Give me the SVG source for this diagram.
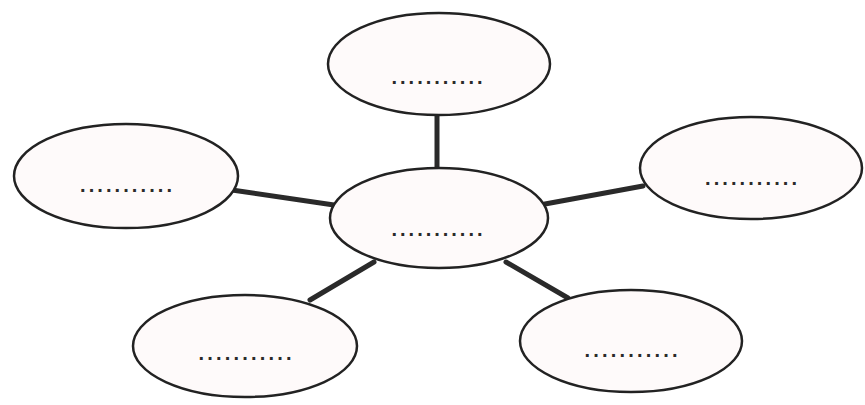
<svg xmlns="http://www.w3.org/2000/svg" width="865" height="405" viewBox="0 0 865 405">
<style>
.n{fill:#fefafa;stroke:#222;stroke-width:2.5}
.t{font-family:"Liberation Sans",Arial,sans-serif;font-size:20px;font-weight:bold;fill:#2a2a2a;text-anchor:middle}
.c{stroke:#2a2a2a;stroke-width:5;stroke-linecap:round;fill:none}
</style>
<rect width="865" height="405" fill="#fff"/>
<g id="connectors">
<line class="c" x1="437" y1="115" x2="437" y2="168"/>
<line class="c" x1="232" y1="190" x2="334" y2="205"/>
<line class="c" x1="545" y1="204" x2="643" y2="186"/>
<line class="c" x1="374" y1="262" x2="310" y2="300"/>
<line class="c" x1="506" y1="262" x2="568" y2="298"/>
</g>
<g id="top"><ellipse class="n" cx="439" cy="64" rx="111" ry="51"/><text class="t" x="437" y="84" textLength="91" lengthAdjust="spacing">...........</text></g>
<g id="center"><ellipse class="n" cx="439" cy="218" rx="109" ry="50"/><text class="t" x="437" y="236" textLength="91" lengthAdjust="spacing">...........</text></g>
<g id="left"><ellipse class="n" cx="126" cy="176" rx="112" ry="52"/><text class="t" x="126" y="192" textLength="92" lengthAdjust="spacing">...........</text></g>
<g id="right"><ellipse class="n" cx="751" cy="168" rx="111" ry="51"/><text class="t" x="751" y="185" textLength="92" lengthAdjust="spacing">...........</text></g>
<g id="bottom-left"><ellipse class="n" cx="245" cy="346" rx="112" ry="51"/><text class="t" x="245" y="360" textLength="93" lengthAdjust="spacing">...........</text></g>
<g id="bottom-right"><ellipse class="n" cx="631" cy="341" rx="111" ry="51"/><text class="t" x="631" y="357" textLength="93" lengthAdjust="spacing">...........</text></g>
</svg>
